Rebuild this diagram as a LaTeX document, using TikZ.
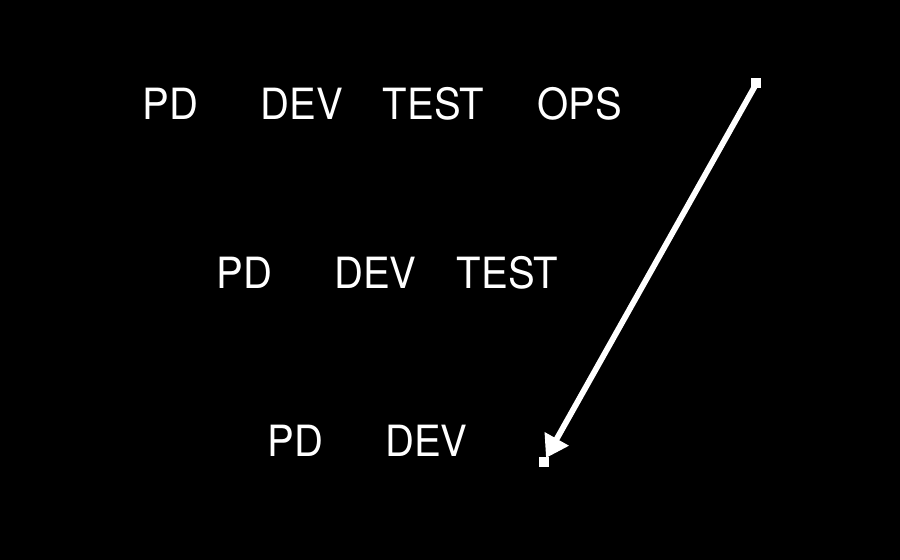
\documentclass[tikz,border=0pt]{standalone}
\usepackage{fontspec}
\setmainfont{TeX Gyre Heros}[FakeStretch=0.93]
\usepackage{tikz}
\usetikzlibrary{positioning,arrows.meta}

\begin{document}
\begin{tikzpicture}[x=0.02cm,y=-0.02cm,
                    word/.style={text=white,inner sep=0pt,anchor=base,
                                 font=\fontsize{24.5}{28}\selectfont},
                    handle/.style={fill=white,draw=none,inner sep=0pt,
                                   minimum size=0.2cm},
                    flow/.style={-{Triangle[length=12.5pt,width=15pt]},
                                 white,line width=3.3pt}]

  \fill[black] (0,0) rectangle (900,560);

  % stage 1
  \node[word] (pdA)   at (170.5,119.5) {PD};
  \node[word] (devA)  at (302,119.5)   {DEV};
  \node[word] (testA) at (433.5,119.5) {TEST};
  \node[word] (opsA)  at (580,119.5)   {OPS};

  % stage 2
  \node[word] (pdB)   at (244.5,288.5) {PD};
  \node[word] (devB)  at (375.5,288.5) {DEV};
  \node[word] (testB) at (507.5,288.5) {TEST};

  % stage 3
  \node[word] (pdC)   at (295.5,456.5) {PD};
  \node[word] (devC)  at (426.5,456.5) {DEV};

  \coordinate (src) at (755,86);
  \coordinate (dst) at (546,458);
  \draw[flow] (src) -- (dst);

  \node[handle] (srcH) at (756,83) {};
  \node[handle] (dstH) at (544,462) {};
\end{tikzpicture}
\end{document}
